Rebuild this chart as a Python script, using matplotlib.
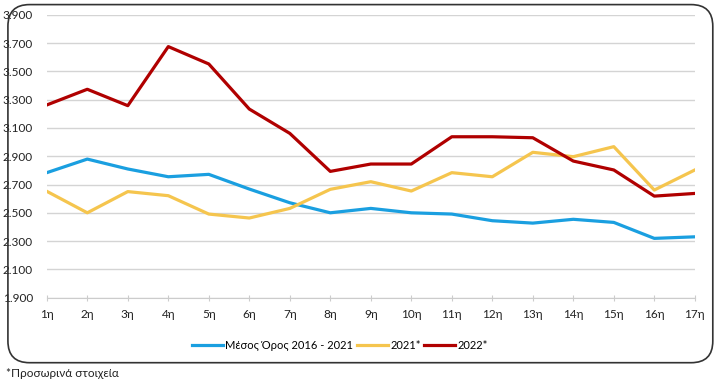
import numpy as np
import matplotlib
matplotlib.use("Agg")
from matplotlib import pyplot as plt
from matplotlib.patches import FancyBboxPatch

plt.rcParams['font.family'] = ['Lato', 'DejaVu Sans']

weeks = ["%dη" % i for i in range(1, 18)]
avg_2016_2021 = [2784, 2880, 2810, 2755, 2772, 2668, 2571, 2500, 2531, 2500,
                 2491, 2444, 2427, 2454, 2432, 2319, 2330]
y2021 = [2652, 2500, 2650, 2621, 2491, 2463, 2531, 2666, 2720, 2654,
         2784, 2755, 2928, 2897, 2968, 2661, 2803]
y2022 = [3263, 3374, 3258, 3676, 3553, 3234, 3062, 2793, 2845, 2845,
         3038, 3038, 3031, 2866, 2803, 2618, 2637]
yticks = np.arange(1900, 3901, 200)


def fmt(v):
    # ελληνική μορφή: τελεία για χιλιάδες
    return "{:,.0f}".format(v).replace(",", ".")


fig = plt.figure(figsize=(7.2, 3.83), dpi=100)
ax = fig.add_axes([0.065, 0.223, 0.9, 0.738])

x = np.arange(len(weeks))
ax.plot(x, avg_2016_2021, color="#1a9fe0", lw=2.3, label="Μέσος Όρος 2016 - 2021")
ax.plot(x, y2021, color="#f5c54e", lw=2.3, label="2021*")
ax.plot(x, y2022, color="#b00000", lw=2.3, label="2022*")

ax.set_xlim(0, len(weeks) - 1)
ax.set_ylim(1900, 3900)
ax.set_yticks(yticks)
ax.set_yticklabels([fmt(v) for v in yticks], fontsize=8.5, color="#222222")
ax.set_xticks(x)
ax.set_xticklabels(weeks, fontsize=8.5, color="#222222")
ax.yaxis.grid(True, color="#d4d4d4", lw=1)
ax.set_axisbelow(True)
for s in ["top", "right", "left"]:
    ax.spines[s].set_visible(False)
ax.spines["bottom"].set_color("#cccccc")
ax.tick_params(axis="y", length=0, pad=10)
ax.tick_params(axis="x", direction="inout", length=5, color="#cccccc", pad=6)

fig.legend(loc="center", bbox_to_anchor=(0.472, 0.098), ncol=3, frameon=False,
           fontsize=8, handlelength=2.8, handletextpad=0.2, columnspacing=0.3)

border = FancyBboxPatch((0.011, 0.053), 0.979, 0.935,
                        boxstyle="round,pad=0,rounding_size=0.03",
                        transform=fig.transFigure, fill=False,
                        edgecolor="#333333", lw=1.2, mutation_aspect=1.88)
fig.patches.append(border)

fig.text(0.008, 0.025, "*Προσωρινά στοιχεία", fontsize=8.5, color="#222222",
         va="center", ha="left")

fig.savefig("out.png", dpi=100)
